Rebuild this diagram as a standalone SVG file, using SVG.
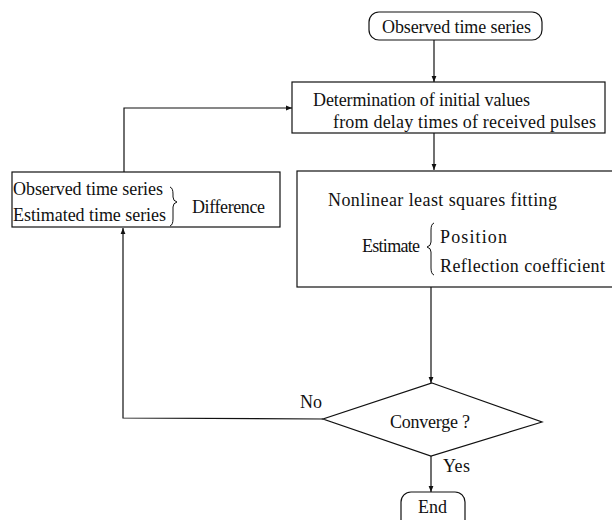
<svg xmlns="http://www.w3.org/2000/svg" width="612" height="520" viewBox="0 0 612 520">
<defs>
<style>
text{font-family:"Liberation Serif","Times New Roman",serif;font-size:18px;fill:#111}
.shape{fill:#fff;stroke:#111;stroke-width:1.2}
.conn{fill:none;stroke:#111;stroke-width:1.2}
.brace{fill:none;stroke:#111;stroke-width:1}
</style>
<marker id="arr" viewBox="0 0 10 10" refX="10" refY="5" markerWidth="6" markerHeight="6" orient="auto" markerUnits="userSpaceOnUse">
<path d="M0,1 L10,5 L0,9 z" fill="#111"/>
</marker>
</defs>
<rect width="612" height="520" fill="#fff"/>
<g id="connectors">
<line class="conn" x1="434" y1="40" x2="434" y2="82" marker-end="url(#arr)"/>
<line class="conn" x1="434" y1="133" x2="434" y2="170" marker-end="url(#arr)"/>
<line class="conn" x1="431" y1="287" x2="431" y2="383" marker-end="url(#arr)"/>
<line class="conn" x1="431" y1="456" x2="431" y2="492" marker-end="url(#arr)"/>
<polyline class="conn" points="323,419 123,418 123,228" marker-end="url(#arr)"/>
<polyline class="conn" points="124,172 124,108 292,108" marker-end="url(#arr)"/>
<text x="300" y="408" textLength="22">No</text>
<text x="443" y="472" textLength="27">Yes</text>
</g>
<g id="start">
<rect class="shape" x="369" y="12" width="173" height="28" rx="10"/>
<text x="382" y="33" textLength="149">Observed time series</text>
</g>
<g id="init">
<rect class="shape" x="292" y="82" width="313" height="51"/>
<text x="313" y="106" textLength="217">Determination of initial values</text>
<text x="333" y="128" textLength="263">from delay times of received pulses</text>
</g>
<g id="fit">
<rect class="shape" x="297" y="171" width="320" height="116"/>
<text x="328" y="206" textLength="229">Nonlinear least squares fitting</text>
<text x="362" y="252" textLength="58">Estimate</text>
<path class="brace" d="M434,223 Q431,224 431,230 L431,242 Q431,246 427,247 Q431,248 431,252 L431,268 Q431,274 434,275"/>
<text x="440" y="243" textLength="67">Position</text>
<text x="440" y="272" textLength="165">Reflection coefficient</text>
</g>
<g id="diff">
<rect class="shape" x="12" y="172" width="268" height="55"/>
<text x="13" y="195" textLength="150">Observed time series</text>
<text x="13" y="221" textLength="153">Estimated time series</text>
<path class="brace" d="M170,187 Q173,188 173,194 L173,197 Q173,201 177,202 Q173,203 173,207 L173,219 Q173,225 170,226"/>
<text x="192" y="213" textLength="73">Difference</text>
</g>
<g id="converge">
<polygon class="shape" points="432,383 542,422 431,456 323,419"/>
<text x="390" y="428" textLength="80">Converge ?</text>
</g>
<g id="end">
<rect class="shape" x="401" y="492" width="64" height="38" rx="10"/>
<text x="418" y="513" textLength="29">End</text>
</g>
</svg>
